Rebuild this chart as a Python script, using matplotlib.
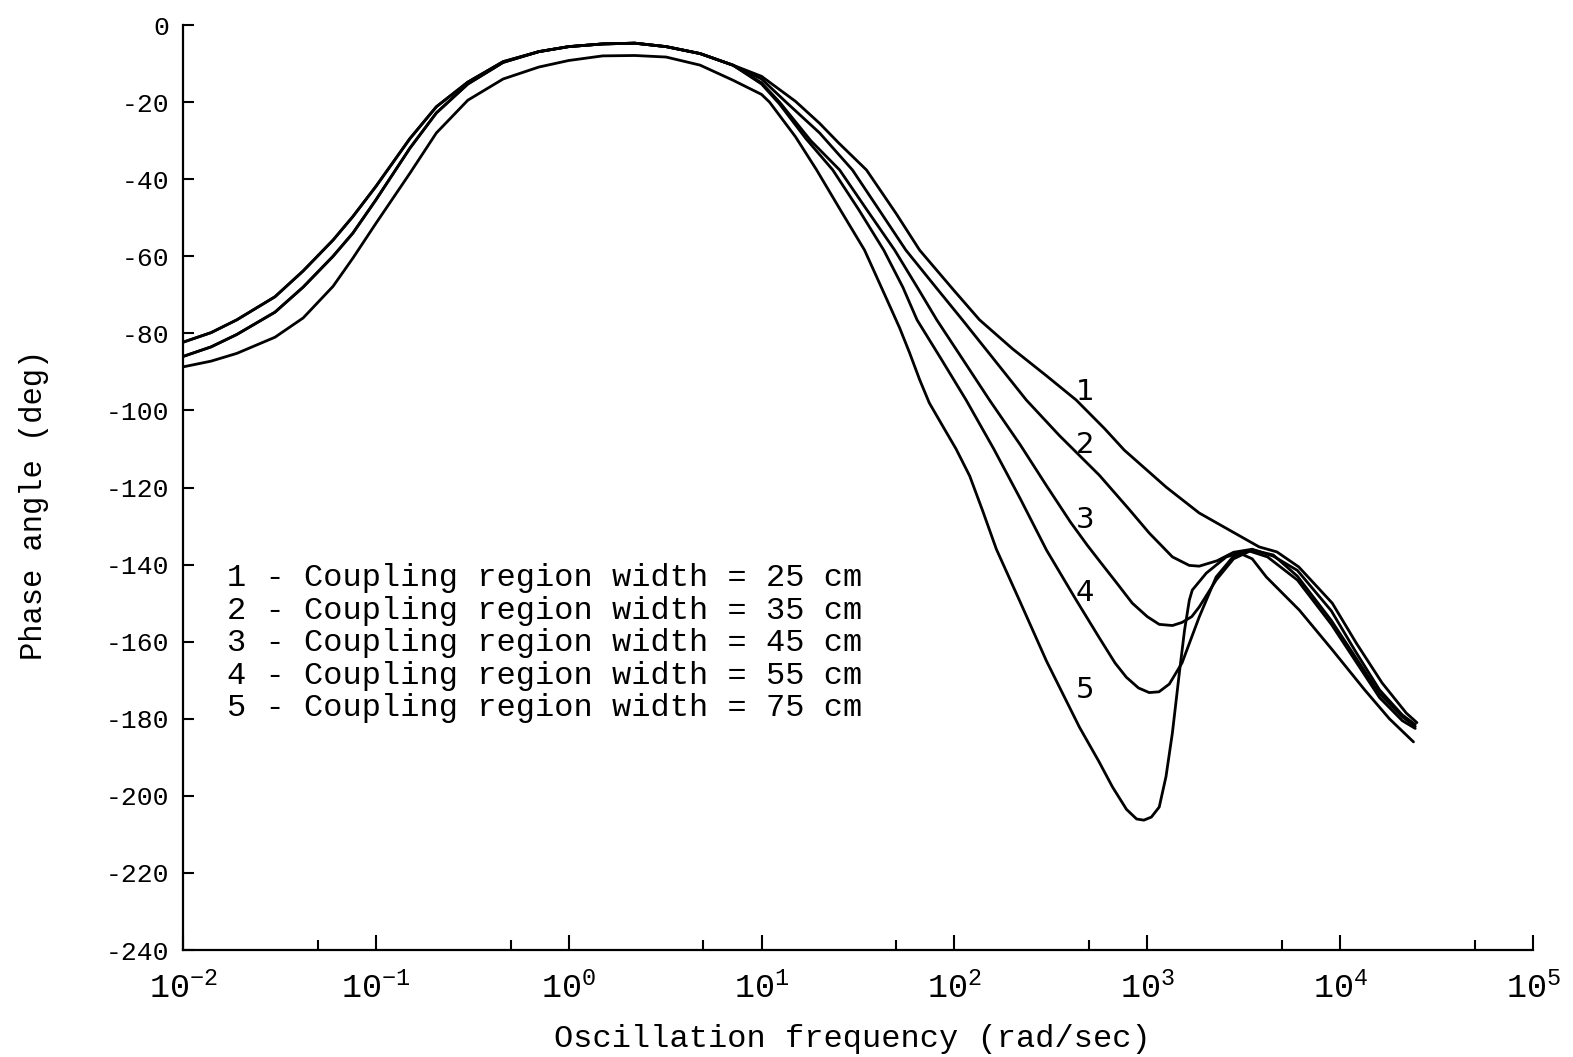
import matplotlib
matplotlib.use("Agg")
import matplotlib.pyplot as plt
from matplotlib.ticker import FixedLocator, NullFormatter

plt.rcParams['font.family'] = ['Liberation Mono', 'DejaVu Sans Mono']
plt.rcParams['mathtext.fontset'] = 'custom'
plt.rcParams['mathtext.rm'] = 'Liberation Mono'
plt.rcParams['mathtext.it'] = 'Liberation Mono'
plt.rcParams['axes.unicode_minus'] = False

# low-frequency part, shared shapes
f_low = [0.01, 0.014, 0.019, 0.03, 0.042, 0.06, 0.076, 0.1, 0.15, 0.206, 0.3,
         0.457, 0.7, 1.0, 1.5, 2.2, 3.2, 4.8, 7.1]
ph_low_top = [-82.3, -79.8, -76.5, -70.5, -63.8, -55.8, -49.7, -41.9, -29.5, -21.2, -14.8,
              -9.5, -6.9, -5.6, -4.9, -4.7, -5.6, -7.4, -10.4]
ph_low_mid = [-86.0, -83.5, -80.3, -74.5, -68.0, -60.0, -54.0, -45.4, -32.0, -22.8, -15.3,
              -9.7, -6.9, -5.6, -4.9, -4.7, -5.6, -7.4, -10.4]
ph_low_bot = [-88.7, -87.2, -85.2, -81.0, -76.0, -67.8, -60.5, -51.5, -38.5, -28.0, -19.5,
              -14.0, -10.9, -9.2, -8.0, -7.9, -8.3, -10.4, -14.3]

# curve 1 - 25 cm
f1 = [10, 15, 20, 25, 35, 50, 66, 100, 135, 200, 300, 428, 600, 760, 1023, 1253, 1858,
      2700, 3800, 4700, 6100, 9100, 12100, 16500, 22000, 25000]
ph1 = [-13.3, -19.8, -25.5, -30.5, -37.6, -49.0, -58.4, -69.0, -76.5, -84.0, -91.0, -97.3,
       -104.7, -110.3, -116.0, -119.9, -126.6, -131.2, -135.4, -136.7, -140.6, -150.0,
       -160.3, -170.7, -178.5, -181.0]
# curve 2 - 35 cm
f2 = [10, 13.4, 20, 29.6, 40, 56, 80, 110, 160, 236, 350, 564, 800, 1023, 1350, 1650,
      1858, 2300, 2800, 3500, 4500, 6000, 9000, 12000, 16000, 21000, 24500]
ph2 = [-14.0, -20.0, -28.0, -37.6, -47.4, -58.4, -68.0, -76.5, -86.7, -97.3, -106.5,
       -116.8, -125.5, -131.8, -138.0, -140.2, -140.4, -139.0, -136.8, -136.0, -137.8,
       -141.5, -152.0, -162.5, -172.5, -179.0, -181.5]
# curve 3 - 45 cm
f3 = [10, 12.4, 18, 25.4, 35, 49, 65, 81, 110, 152, 220, 300, 400, 489, 564, 700, 836,
      1000, 1153, 1350, 1514, 1700, 1858, 2275, 2800, 3500, 4500, 6000, 9000, 12000,
      16000, 21000, 24500]
ph3 = [-15.0, -20.0, -30.0, -37.6, -47.8, -58.4, -68.5, -76.5, -86.6, -97.3, -109.0,
       -119.5, -129.0, -135.0, -139.0, -145.0, -150.0, -153.5, -155.5, -155.8, -155.0,
       -153.5, -151.0, -144.0, -138.5, -136.2, -137.5, -143.0, -154.5, -164.0, -173.5,
       -179.5, -182.0]
# curve 4 - 55 cm
f4 = [10, 12.4, 17, 23.4, 32, 43, 54, 64, 85, 115, 160, 220, 300, 428, 564, 680, 778,
      900, 1023, 1150, 1300, 1514, 1858, 2275, 2800, 3300, 4200, 6000, 9000, 12000,
      16000, 21000, 24500]
ph4 = [-15.3, -20.5, -29.5, -37.6, -48.0, -58.4, -68.0, -76.5, -86.5, -97.3, -110.0,
       -123.0, -136.2, -149.2, -159.0, -165.5, -169.2, -172.0, -173.2, -173.0, -171.0,
       -165.5, -153.6, -143.2, -137.8, -136.3, -138.0, -144.0, -155.5, -165.0, -174.5,
       -180.5, -182.5]
# curve 5 - 75 cm
f5 = [10, 11, 15, 19.3, 26, 34.2, 45, 52, 58.5, 66, 74, 88, 102, 120, 140, 165, 217, 300,
      445, 560, 660, 780, 880, 960, 1050, 1153, 1250, 1349, 1466, 1560, 1652, 1711, 2023,
      2566, 3000, 3500, 4140, 6140, 9100, 13400, 18000, 24000]
ph5 = [-18.0, -20.0, -29.0, -37.6, -48.5, -58.4, -71.6, -78.6, -85.0, -92.0, -98.0,
       -104.5, -110.0, -117.0, -126.0, -136.0, -149.2, -165.0, -182.2, -191.0, -197.7,
       -203.5, -206.0, -206.3, -205.5, -202.9, -195.0, -183.7, -168.1, -157.0, -149.2,
       -146.6, -142.2, -138.0, -137.0, -138.5, -143.2, -151.8, -162.1, -172.5, -180.0,
       -186.0]

curves = [
    (f_low + f1, ph_low_top + ph1),
    (f_low + f2, ph_low_top + ph2),
    (f_low + f3, ph_low_mid + ph3),
    (f_low + f4, ph_low_mid + ph4),
    (f_low + f5, ph_low_bot + ph5),
]

legend_lines = [
    "1 - Coupling region width = 25 cm",
    "2 - Coupling region width = 35 cm",
    "3 - Coupling region width = 45 cm",
    "4 - Coupling region width = 55 cm",
    "5 - Coupling region width = 75 cm",
]
curve_tags = ["1", "2", "3", "4", "5"]

x_major = [1e-2, 1e-1, 1e0, 1e1, 1e2, 1e3, 1e4, 1e5]
x_major_labels = [r"$\mathregular{10^{%d}}$" % e for e in range(-2, 6)]
x_minor = [5e-2, 5e-1, 5e0, 5e1, 5e2, 5e3, 5e4]
y_ticks = list(range(0, -241, -20))

fig = plt.figure(figsize=(15.73, 10.57), dpi=100)
ax = fig.add_axes([0.1163, 0.1012, 0.8583, 0.8751])

for f, ph in curves:
    ax.plot(f, ph, color="black", lw=2.0, solid_joinstyle="round", solid_capstyle="round")

ax.set_xscale("log")
ax.set_xlim(1e-2, 1e5)
ax.set_ylim(-240, 0)

ax.xaxis.set_major_locator(FixedLocator(x_major))
ax.set_xticklabels(x_major_labels, fontsize=24)
ax.xaxis.set_minor_locator(FixedLocator(x_minor))
ax.xaxis.set_minor_formatter(NullFormatter())
ax.set_yticks(y_ticks)
ax.set_yticklabels([str(v) for v in y_ticks], fontsize=19)

ax.tick_params(axis="x", which="major", direction="in", length=11, width=1.5, pad=16)
ax.tick_params(axis="x", which="minor", direction="in", length=7, width=1.5)
ax.tick_params(axis="y", which="major", direction="in", length=8, width=1.5, pad=10)

for s in ["top", "right"]:
    ax.spines[s].set_visible(False)
for s in ["left", "bottom"]:
    ax.spines[s].set_linewidth(1.6)

ax.set_xlabel("Oscillation frequency (rad/sec)", fontsize=23)
ax.xaxis.set_label_coords(0.496, -0.08)
ax.set_ylabel("Phase angle (deg)", fontsize=22)
ax.yaxis.set_label_coords(-0.099, 0.481)

for i, line in enumerate(legend_lines):
    ax.text(0.033, 0.402 - i * 0.0352, line, transform=ax.transAxes, fontsize=23,
            va="center", ha="left")

tag_y = [0.603, 0.546, 0.465, 0.386, 0.281]
for t, yy in zip(curve_tags, tag_y):
    ax.text(0.668, yy, t, transform=ax.transAxes, fontsize=21, family="DejaVu Sans",
            va="center", ha="center")

fig.savefig("out.png", dpi=100)
